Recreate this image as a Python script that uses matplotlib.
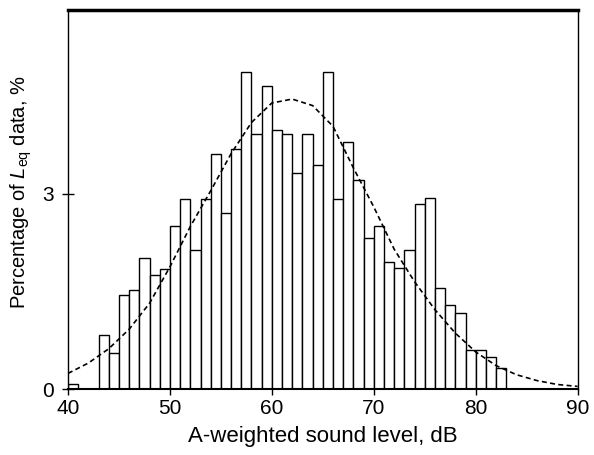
import numpy as np
import matplotlib.pyplot as plt

plt.rcParams['font.family'] = ['Liberation Sans', 'DejaVu Sans']
plt.rcParams['mathtext.fontset'] = 'custom'
plt.rcParams['mathtext.rm'] = 'Liberation Sans'
plt.rcParams['mathtext.it'] = 'Liberation Sans:italic'

# histogram: left edge of each 1 dB bin and its percentage
bin_left = np.arange(40, 83)
pct = [0.08, 0.0, 0.0, 0.83, 0.56, 1.45, 1.52, 2.02, 1.75, 1.84,
       2.51, 2.92, 2.14, 2.92, 3.62, 2.70, 3.69, 4.87, 3.92, 4.66,
       3.98, 3.92, 3.32, 3.92, 3.44, 4.87, 2.92, 3.80, 3.21, 2.33,
       2.51, 1.95, 1.86, 2.14, 2.84, 2.94, 1.55, 1.29, 1.17, 0.60,
       0.60, 0.49, 0.32]

# fitted curve, every 2 dB
curve_x = np.arange(40, 91, 2)
curve_y = [0.24, 0.40, 0.62, 0.92, 1.32, 1.88, 2.50, 3.05, 3.62, 4.10,
           4.40, 4.46, 4.36, 4.04, 3.40, 2.80, 2.15, 1.65, 1.22, 0.86,
           0.57, 0.36, 0.22, 0.13, 0.07, 0.04]

fig = plt.figure(figsize=(5.94, 4.55), dpi=100)
ax = fig.add_axes([0.1145, 0.145, 0.858, 0.833])

ax.bar(bin_left, pct, width=1.0, align='edge', facecolor='white',
       edgecolor='black', linewidth=1.0)
ax.plot(curve_x, curve_y, color='black', lw=1.2, ls=(0, (3, 2)))

ax.set_xlim(40, 90)
ax.set_ylim(0, 5.83)
ax.set_xticks([40, 50, 60, 70, 80, 90])
ax.set_yticks([0, 3])
ax.tick_params(axis='x', direction='out', length=4, width=1, labelsize=15, pad=3)
ax.tick_params(axis='y', direction='inout', length=8, width=1, labelsize=15, pad=6)

for s in ['left', 'right']:
    ax.spines[s].set_linewidth(1.0)
ax.spines['bottom'].set_linewidth(1.5)
ax.spines['top'].set_linewidth(2.5)

ax.set_xlabel('A-weighted sound level, dB', fontsize=16, labelpad=6)
ax.set_ylabel('Percentage of $L_{\\rm eq}$ data, %', fontsize=14.5)
ax.yaxis.set_label_coords(-0.066, 0.52)

fig.savefig('out.png', dpi=100)
